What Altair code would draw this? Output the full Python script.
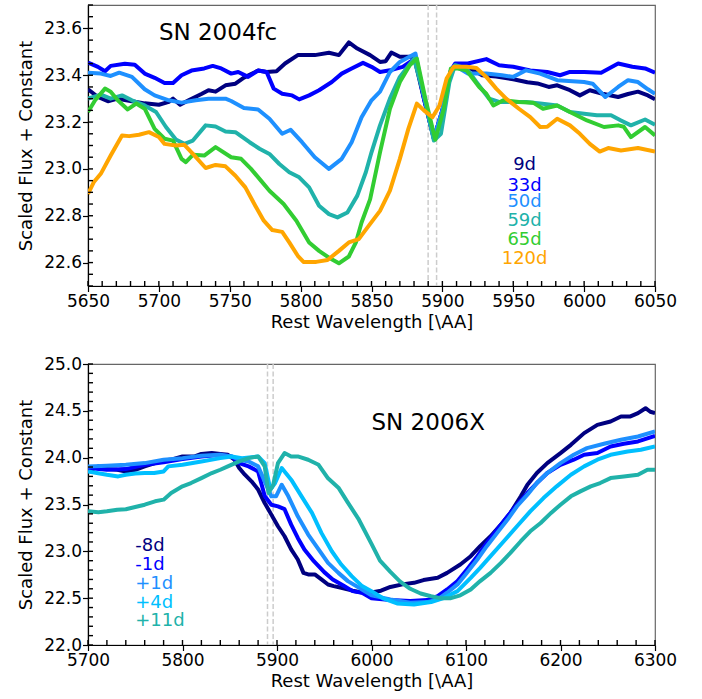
import altair as alt
import pandas as pd
import numpy as np

FONT = "DejaVu Sans"

# ---------------- SN 2004fc (top panel) ----------------
w_9d = [5650, 5657, 5664, 5671, 5680, 5690, 5700, 5707, 5710, 5715, 5721, 5730, 5735, 5740, 5747, 5754, 5760, 5770, 5776, 5783, 5789, 5798, 5810, 5820, 5827, 5834, 5840, 5849, 5856, 5860, 5864, 5870, 5880, 5887, 5894, 5900, 5906, 5910, 5918, 5928, 5938, 5950, 5960, 5967, 5975, 5981, 5990, 5997, 6004, 6013, 6024, 6031, 6038, 6045, 6050]
f_9d = [23.34, 23.307, 23.289, 23.30, 23.29, 23.28, 23.274, 23.286, 23.30, 23.274, 23.293, 23.32, 23.336, 23.33, 23.357, 23.364, 23.39, 23.42, 23.414, 23.417, 23.45, 23.486, 23.486, 23.496, 23.486, 23.54, 23.514, 23.486, 23.457, 23.46, 23.497, 23.479, 23.479, 23.30, 23.13, 23.25, 23.42, 23.443, 23.435, 23.40, 23.395, 23.383, 23.37, 23.365, 23.35, 23.357, 23.336, 23.314, 23.336, 23.321, 23.307, 23.32, 23.33, 23.314, 23.297]

w_33d = [5650, 5657, 5662, 5666, 5676, 5683, 5690, 5697, 5704, 5710, 5716, 5723, 5732, 5738, 5744, 5751, 5756, 5763, 5770, 5776, 5781, 5787, 5794, 5799, 5806, 5813, 5822, 5829, 5836, 5844, 5850, 5856, 5863, 5872, 5879, 5881, 5887, 5894, 5900, 5906, 5909, 5918, 5931, 5940, 5950, 5962, 5974, 5983, 5990, 6000, 6012, 6024, 6034, 6043, 6050]
f_33d = [23.454, 23.436, 23.417, 23.44, 23.449, 23.445, 23.407, 23.389, 23.367, 23.367, 23.40, 23.42, 23.429, 23.44, 23.429, 23.407, 23.414, 23.393, 23.42, 23.414, 23.343, 23.321, 23.314, 23.297, 23.314, 23.336, 23.371, 23.407, 23.429, 23.453, 23.436, 23.414, 23.421, 23.436, 23.464, 23.47, 23.30, 23.13, 23.25, 23.42, 23.45, 23.45, 23.469, 23.443, 23.436, 23.42, 23.414, 23.40, 23.414, 23.414, 23.411, 23.45, 23.436, 23.429, 23.411]

w_50d = [5650, 5659, 5666, 5672, 5681, 5690, 5697, 5707, 5716, 5726, 5735, 5747, 5751, 5760, 5770, 5778, 5787, 5793, 5801, 5810, 5820, 5829, 5836, 5843, 5850, 5856, 5863, 5870, 5881, 5887, 5894, 5900, 5906, 5909, 5918, 5931, 5942, 5950, 5959, 5969, 5981, 6000, 6006, 6015, 6024, 6031, 6038, 6045, 6050]
f_50d = [23.411, 23.407, 23.397, 23.411, 23.393, 23.34, 23.314, 23.293, 23.283, 23.293, 23.30, 23.30, 23.29, 23.26, 23.254, 23.214, 23.15, 23.167, 23.114, 23.05, 23.0, 23.043, 23.114, 23.221, 23.293, 23.33, 23.414, 23.457, 23.493, 23.31, 23.13, 23.25, 23.42, 23.44, 23.407, 23.407, 23.40, 23.393, 23.421, 23.407, 23.379, 23.371, 23.364, 23.307, 23.35, 23.379, 23.371, 23.34, 23.321]

w_59d = [5650, 5659, 5666, 5674, 5681, 5690, 5698, 5705, 5712, 5718, 5724, 5733, 5740, 5747, 5754, 5764, 5771, 5778, 5785, 5792, 5799, 5806, 5813, 5820, 5826, 5833, 5840, 5846, 5850, 5856, 5863, 5870, 5880, 5887, 5894, 5899, 5905, 5909, 5917, 5924, 5933, 5940, 5950, 5959, 5969, 5981, 5990, 6000, 6009, 6019, 6026, 6033, 6043, 6050]
f_59d = [23.30, 23.317, 23.30, 23.314, 23.293, 23.271, 23.243, 23.179, 23.126, 23.107, 23.121, 23.186, 23.181, 23.16, 23.157, 23.114, 23.086, 23.064, 23.021, 22.986, 22.964, 22.921, 22.843, 22.807, 22.793, 22.814, 22.886, 22.986, 23.071, 23.186, 23.30, 23.393, 23.471, 23.314, 23.121, 23.15, 23.371, 23.443, 23.429, 23.371, 23.30, 23.286, 23.286, 23.286, 23.279, 23.271, 23.243, 23.236, 23.229, 23.229, 23.207, 23.186, 23.211, 23.189]

w_65d = [5650, 5655, 5662, 5666, 5671, 5678, 5684, 5690, 5697, 5704, 5710, 5716, 5719, 5724, 5732, 5740, 5751, 5758, 5765, 5772, 5778, 5788, 5797, 5806, 5813, 5820, 5827, 5834, 5839, 5843, 5849, 5856, 5863, 5870, 5877, 5882, 5888, 5895, 5901, 5906, 5910, 5917, 5926, 5931, 5936, 5943, 5954, 5964, 5971, 5981, 5990, 6002, 6014, 6024, 6028, 6033, 6043, 6050]
f_65d = [23.243, 23.293, 23.343, 23.33, 23.293, 23.254, 23.279, 23.257, 23.171, 23.129, 23.121, 23.043, 23.029, 23.06, 23.057, 23.093, 23.05, 23.043, 23.0, 22.95, 22.907, 22.85, 22.779, 22.686, 22.65, 22.621, 22.597, 22.626, 22.686, 22.771, 22.87, 23.071, 23.257, 23.371, 23.443, 23.471, 23.30, 23.125, 23.257, 23.429, 23.43, 23.421, 23.35, 23.321, 23.271, 23.293, 23.286, 23.283, 23.257, 23.271, 23.243, 23.207, 23.179, 23.186, 23.18, 23.136, 23.179, 23.143]

w_120d = [5650, 5654, 5659, 5666, 5674, 5679, 5686, 5693, 5700, 5704, 5712, 5718, 5724, 5733, 5740, 5747, 5754, 5761, 5768, 5774, 5780, 5787, 5792, 5798, 5802, 5811, 5819, 5827, 5834, 5841, 5848, 5856, 5863, 5870, 5876, 5882, 5887, 5893, 5898, 5903, 5908, 5917, 5924, 5931, 5938, 5945, 5954, 5962, 5969, 5974, 5981, 5990, 5997, 6004, 6011, 6017, 6026, 6038, 6050]
f_120d = [22.893, 22.943, 22.979, 23.057, 23.143, 23.14, 23.146, 23.157, 23.136, 23.107, 23.10, 23.103, 23.064, 23.004, 23.017, 23.011, 22.971, 22.921, 22.843, 22.779, 22.739, 22.731, 22.686, 22.629, 22.603, 22.603, 22.611, 22.65, 22.686, 22.70, 22.757, 22.821, 22.907, 23.043, 23.171, 23.279, 23.25, 23.221, 23.271, 23.386, 23.436, 23.436, 23.431, 23.393, 23.343, 23.30, 23.257, 23.221, 23.179, 23.18, 23.214, 23.186, 23.15, 23.107, 23.074, 23.089, 23.079, 23.089, 23.074]

top_names = ["9d", "33d", "50d", "59d", "65d", "120d"]
top_colors = ["#000080", "#0000FF", "#1E90FF", "#20B2AA", "#32CD32", "#FFA500"]
top_w = [w_9d, w_33d, w_50d, w_59d, w_65d, w_120d]
top_f = [f_9d, f_33d, f_50d, f_59d, f_65d, f_120d]
top_label_x = 5958
top_label_y = [22.996, 22.906, 22.836, 22.756, 22.676, 22.596]

# ---------------- SN 2006X (bottom panel) ----------------
w_m8 = [5700, 5711, 5720, 5731, 5740, 5750, 5760, 5771, 5780, 5789, 5800, 5813, 5820, 5831, 5840, 5848, 5855, 5860, 5866, 5873, 5880, 5887, 5894, 5901, 5908, 5915, 5922, 5928, 5933, 5940, 5947, 5954, 5960, 5968, 5980, 5990, 6000, 6010, 6020, 6034, 6045, 6055, 6070, 6080, 6094, 6105, 6115, 6126, 6137, 6147, 6158, 6165, 6175, 6186, 6200, 6211, 6225, 6239, 6253, 6264, 6274, 6282, 6290, 6295, 6300]
f_m8 = [23.853, 23.907, 23.878, 23.87, 23.853, 23.87, 23.907, 23.942, 23.97, 23.98, 24.013, 24.013, 24.04, 24.049, 24.04, 24.03, 23.978, 23.89, 23.818, 23.747, 23.66, 23.516, 23.392, 23.268, 23.161, 23.02, 22.913, 22.77, 22.753, 22.753, 22.70, 22.646, 22.629, 22.611, 22.58, 22.56, 22.56, 22.58, 22.62, 22.65, 22.664, 22.693, 22.717, 22.77, 22.859, 22.948, 23.055, 23.161, 23.285, 23.41, 23.587, 23.711, 23.836, 23.942, 24.049, 24.137, 24.262, 24.35, 24.386, 24.439, 24.44, 24.475, 24.528, 24.49, 24.475]

w_m1 = [5700, 5720, 5740, 5760, 5780, 5800, 5820, 5840, 5852, 5860, 5870, 5880, 5887, 5894, 5901, 5908, 5915, 5922, 5929, 5939, 5950, 5959, 5971, 5980, 5990, 6000, 6020, 6041, 6059, 6070, 6080, 6091, 6101, 6112, 6122, 6133, 6144, 6154, 6165, 6175, 6186, 6200, 6214, 6225, 6239, 6253, 6267, 6282, 6300]
f_m1 = [23.889, 23.87, 23.878, 23.924, 23.95, 23.985, 24.013, 24.031, 24.013, 23.942, 23.907, 23.853, 23.59, 23.498, 23.48, 23.45, 23.285, 23.143, 23.02, 22.895, 22.778, 22.70, 22.629, 22.575, 22.558, 22.50, 22.48, 22.469, 22.48, 22.522, 22.593, 22.682, 22.806, 22.948, 23.09, 23.232, 23.374, 23.498, 23.623, 23.729, 23.836, 23.924, 23.978, 24.031, 24.049, 24.12, 24.148, 24.173, 24.233]

w_p1 = [5700, 5720, 5740, 5760, 5780, 5800, 5820, 5840, 5852, 5860, 5870, 5880, 5887, 5894, 5899, 5905, 5912, 5922, 5933, 5944, 5954, 5965, 5975, 5990, 6000, 6020, 6041, 6059, 6070, 6080, 6091, 6101, 6112, 6122, 6133, 6144, 6154, 6165, 6175, 6186, 6200, 6214, 6228, 6246, 6264, 6282, 6300]
f_p1 = [23.907, 23.914, 23.924, 23.942, 23.978, 23.995, 24.02, 24.031, 24.013, 23.978, 23.96, 23.907, 23.747, 23.587, 23.587, 23.711, 23.587, 23.374, 23.179, 23.02, 22.877, 22.77, 22.682, 22.593, 22.53, 22.487, 22.451, 22.458, 22.487, 22.558, 22.647, 22.771, 22.913, 23.055, 23.197, 23.339, 23.481, 23.605, 23.729, 23.836, 23.942, 24.031, 24.102, 24.148, 24.191, 24.226, 24.279]

w_p4 = [5700, 5720, 5732, 5740, 5750, 5760, 5770, 5780, 5785, 5800, 5820, 5840, 5852, 5863, 5880, 5887, 5893, 5898, 5905, 5915, 5926, 5937, 5947, 5958, 5968, 5979, 5990, 6000, 6013, 6027, 6045, 6063, 6077, 6091, 6105, 6115, 6126, 6140, 6154, 6168, 6182, 6196, 6211, 6225, 6239, 6253, 6271, 6285, 6300]
f_p4 = [23.853, 23.818, 23.80, 23.818, 23.83, 23.836, 23.836, 23.853, 23.907, 23.924, 23.96, 23.995, 24.013, 23.995, 24.013, 23.942, 23.658, 23.729, 23.889, 23.765, 23.587, 23.41, 23.197, 23.001, 22.859, 22.735, 22.629, 22.575, 22.494, 22.444, 22.433, 22.458, 22.504, 22.575, 22.717, 22.824, 22.948, 23.108, 23.268, 23.427, 23.569, 23.694, 23.818, 23.907, 23.978, 24.031, 24.066, 24.084, 24.12]

w_p11 = [5700, 5711, 5720, 5731, 5740, 5750, 5760, 5771, 5780, 5788, 5800, 5809, 5820, 5831, 5840, 5848, 5860, 5870, 5880, 5887, 5891, 5896, 5901, 5908, 5915, 5922, 5933, 5944, 5954, 5965, 5975, 5986, 6000, 6009, 6020, 6030, 6041, 6052, 6063, 6073, 6084, 6094, 6105, 6115, 6126, 6137, 6147, 6158, 6168, 6179, 6190, 6200, 6211, 6221, 6232, 6242, 6253, 6267, 6282, 6292, 6300]
f_p11 = [23.427, 23.417, 23.427, 23.445, 23.45, 23.474, 23.498, 23.534, 23.552, 23.623, 23.694, 23.729, 23.782, 23.836, 23.871, 23.907, 23.96, 23.995, 24.013, 23.907, 23.623, 23.711, 23.942, 24.049, 24.013, 24.013, 23.978, 23.924, 23.78, 23.68, 23.52, 23.35, 23.08, 22.90, 22.78, 22.68, 22.60, 22.55, 22.52, 22.50, 22.50, 22.53, 22.593, 22.682, 22.77, 22.877, 22.984, 23.108, 23.214, 23.303, 23.41, 23.498, 23.587, 23.64, 23.694, 23.729, 23.782, 23.80, 23.818, 23.871, 23.871]

bot_names = ["-8d", "-1d", "+1d", "+4d", "+11d"]
bot_colors = ["#000080", "#0000FF", "#1E90FF", "#00BFFF", "#20B2AA"]
bot_w = [w_m8, w_m1, w_p1, w_p4, w_p11]
bot_f = [f_m8, f_m1, f_p1, f_p4, f_p11]
bot_label_x = 5750
bot_label_y = [23.0, 22.8, 22.6, 22.4, 22.2]

na_lines = [5889.95, 5895.92]

W, H = 567, 281
TICK_PX = 5.0


def panel(names, colors, ws, fs, xdom, ydom, xmaj, xmin_step, ymaj, ymin_step,
          sn_text, sn_x, sn_y, lab_x, lab_y, lab_align):
    sx = alt.Scale(domain=xdom, nice=False, zero=False)
    sy = alt.Scale(domain=ydom, nice=False, zero=False)
    ax = alt.Axis(values=xmaj, format="d", title="Rest Wavelength [\\AA]",
                  tickSize=5.5, labelPadding=2, titlePadding=4, labelFlush=False,
                  labelOverlap=False, grid=False)
    ay = alt.Axis(values=ymaj, format=".1f", title="Scaled Flux + Constant",
                  tickSize=5.5, labelPadding=1, titlePadding=8, labelFlush=False,
                  labelOverlap=False, grid=False)
    X = lambda f: alt.X(f"{f}:Q", scale=sx, axis=ax)
    Y = lambda f: alt.Y(f"{f}:Q", scale=sy, axis=ay)

    rows = []
    for n, w, f in zip(names, ws, fs):
        for a, b in zip(w, f):
            rows.append({"s": n, "w": a, "f": b})
    df = pd.DataFrame(rows)

    layers = []
    # Na D lines
    layers.append(alt.Chart(pd.DataFrame({"w": na_lines})).mark_rule(
        color="#cccccc", strokeWidth=1.5, strokeDash=[5, 2.5]).encode(x=X("w")))
    for n, c in zip(names, colors):
        layers.append(alt.Chart(df).transform_filter(alt.datum.s == n).mark_line(
            color=c, strokeWidth=4, clip=True, strokeJoin="round").encode(
            x=X("w"), y=Y("f"), order="w:Q"))

    # inward ticks: short segments in data units (5 px long)
    dy = (ydom[1] - ydom[0]) * TICK_PX / H
    dx = (xdom[1] - xdom[0]) * TICK_PX / W
    xs = [float(v) for v in np.arange(xdom[0], xdom[1] + 0.001, xmin_step)]
    xt = pd.DataFrame({"tw": xs, "tw2": xs,
                       "ty0": [float(ydom[0])] * len(xs), "ty1": [float(ydom[0] + dy)] * len(xs)})
    layers.append(alt.Chart(xt).mark_rule(color="black", strokeWidth=1.4).encode(
        x=X("tw"), x2="tw2:Q", y=Y("ty0"), y2="ty1:Q"))
    ys = [float(v) for v in np.round(np.arange(ydom[0], ydom[1] + 0.0001, ymin_step), 3)]
    yt = pd.DataFrame({"uf": ys, "ux0": [float(xdom[0])] * len(ys), "ux1": [float(xdom[0] + dx)] * len(ys)})
    layers.append(alt.Chart(yt).mark_rule(color="black", strokeWidth=1.4).encode(
        y=Y("uf"), x=X("ux0"), x2="ux1:Q"))

    # SN label
    layers.append(alt.Chart(pd.DataFrame({"w": [sn_x], "f": [sn_y], "t": [sn_text]})).mark_text(
        font=FONT, fontSize=23, align="left", baseline="alphabetic", color="black").encode(
        x=X("w"), y=Y("f"), text="t:N"))
    # epoch labels
    ldf = pd.DataFrame({"w": [lab_x] * len(names), "f": lab_y, "t": names, "c": colors})
    layers.append(alt.Chart(ldf).mark_text(
        font=FONT, fontSize=18, align=lab_align, baseline="alphabetic").encode(
        x=X("w"), y=Y("f"), text="t:N", color=alt.Color("c:N", scale=None)))
    return alt.layer(*layers).properties(width=W, height=H)


top = panel(top_names, top_colors, top_w, top_f, [5650, 6050], [22.5, 23.7],
            list(range(5650, 6051, 50)), 10, [22.6, 22.8, 23.0, 23.2, 23.4, 23.6], 0.05,
            "SN 2004fc", 5700, 23.55, top_label_x, top_label_y, "center")
bot = panel(bot_names, bot_colors, bot_w, bot_f, [5700, 6300], [22.0, 25.0],
            list(range(5700, 6301, 100)), 20, [22.0, 22.5, 23.0, 23.5, 24.0, 24.5, 25.0], 0.1,
            "SN 2006X", 6000, 24.3, bot_label_x, bot_label_y, "left")

chart = alt.vconcat(top, bot, spacing=78, bounds="flush").properties(
    padding={"left": 17, "top": 3, "right": 5, "bottom": 5},
    background="white"
).configure_view(stroke="#666666", strokeWidth=1.2).configure_axis(
    domainColor="black", tickColor="black", labelColor="black", titleColor="black",
    labelFont=FONT, titleFont=FONT, labelFontSize=17, titleFontSize=18,
    titleFontWeight="normal", domainWidth=1.2, tickWidth=1.2
)

chart.save("out.html", embed_options={"renderer": "svg", "actions": False})
